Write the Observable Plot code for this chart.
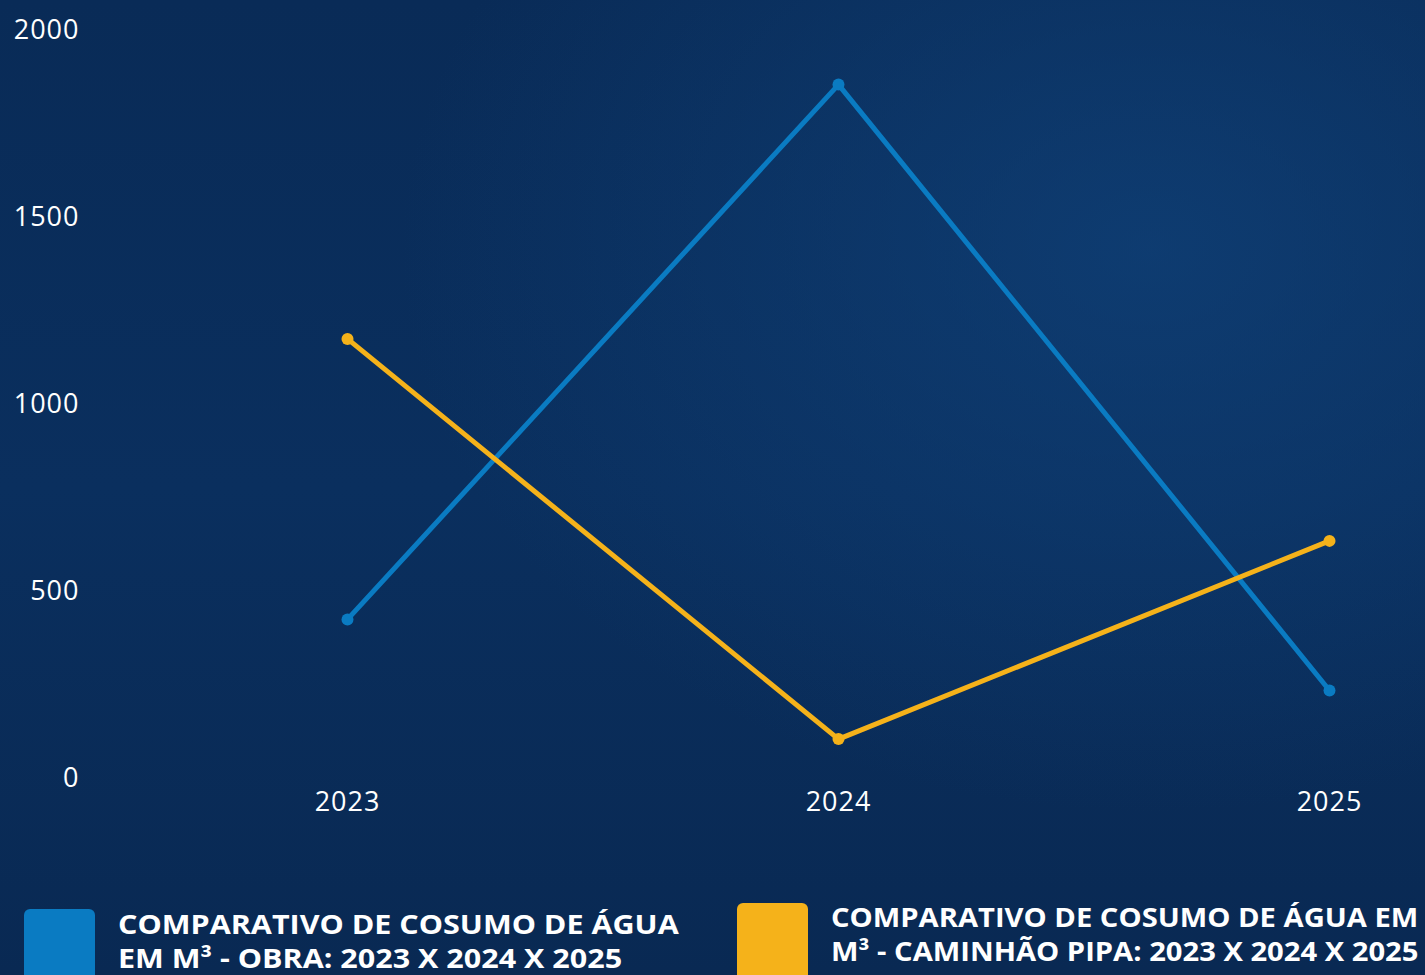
<!DOCTYPE html>
<html>
<head>
<meta charset="utf-8">
<script src="https://cdn.jsdelivr.net/npm/d3@7"></script>
<script src="https://cdn.jsdelivr.net/npm/@observablehq/plot@0.6"></script>
<style>
  html, body { margin: 0; padding: 0; }
  body {
    width: 1425px; height: 975px; overflow: hidden; position: relative;
    background:
      radial-gradient(ellipse 1000px 750px at 1150px 250px, rgba(16,66,122,0.7), rgba(16,66,122,0) 75%),
      linear-gradient(180deg, #092b57 0%, #0a2f5e 50%, #09295300 100%),
      #092953;
    font-family: "Open Sans", "Noto Sans", sans-serif;
  }
  #chart { position: absolute; left: 0; top: 0; }
  .swatch { position: absolute; border-radius: 6px; }
  .ltext {
    position: absolute; color: #fff; font-weight: 700; font-size: 27px; line-height: 32px; height: 32px;
    font-family: "Open Sans", "Noto Sans", sans-serif; white-space: nowrap;
    transform-origin: 0 0; letter-spacing: 0px;
  }
</style>
</head>
<body>
<div id="chart"></div>
<div class="swatch" style="left:24px; top:909px; width:71px; height:80px; background:#0a7bc2;"></div>
<div class="ltext" style="left:118px; top:908px; transform: scaleX(1.13);">COMPARATIVO DE COSUMO DE ÁGUA</div>
<div class="ltext" style="left:118px; top:942px; transform: scaleX(1.13);">EM M³ - OBRA: 2023 X 2024 X 2025</div>
<div class="swatch" style="left:737px; top:903px; width:71px; height:80px; background:#f5b21a;"></div>
<div class="ltext" style="left:831px; top:901px; transform: scaleX(1.08);">COMPARATIVO DE COSUMO DE ÁGUA EM</div>
<div class="ltext" style="left:831px; top:935px; transform: scaleX(1.08);">M³ - CAMINHÃO PIPA: 2023 X 2024 X 2025</div>
<script>
const years = ["2023", "2024", "2025"];
const obra = [420, 1850, 230];
const pipa = [1170, 100, 630];
const seriesNames = ["Obra", "Caminhão Pipa"];
const seriesColors = ["#0a7bc2", "#f5b21a"];
const yTicks = [0, 500, 1000, 1500, 2000];

const rows = [];
years.forEach((y, i) => {
  rows.push({year: y, value: obra[i], series: seriesNames[0]});
  rows.push({year: y, value: pipa[i], series: seriesNames[1]});
});

const chart = Plot.plot({
  width: 1425,
  height: 880,
  marginTop: 28,
  marginBottom: 104,
  marginLeft: 82,
  marginRight: 0,
  style: {background: "transparent", color: "#ffffff", fontFamily: "'Open Sans', 'Noto Sans', sans-serif", fontSize: "27px", letterSpacing: "1px"},
  x: {type: "point", domain: years, insetLeft: 264, insetRight: 96, padding: 0},
  y: {domain: [0, 2000], ticks: yTicks},
  color: {domain: seriesNames, range: seriesColors},
  marks: [
    Plot.axisY({ticks: yTicks, tickFormat: d => String(d), tickSize: 0, tickPadding: 3, dy: 2, label: null, fill: "#ffffff", fontSize: 27}),
    Plot.axisX({tickSize: 0, tickPadding: 15, label: null, fill: "#ffffff", fontSize: 27}),
    Plot.line(rows, {x: "year", y: "value", z: "series", stroke: "series", strokeWidth: 5, strokeLinecap: "round"}),
    Plot.dot(rows, {x: "year", y: "value", fill: "series", r: 6, stroke: "none"})
  ]
});
document.getElementById("chart").appendChild(chart);
</script>
</body>
</html>
